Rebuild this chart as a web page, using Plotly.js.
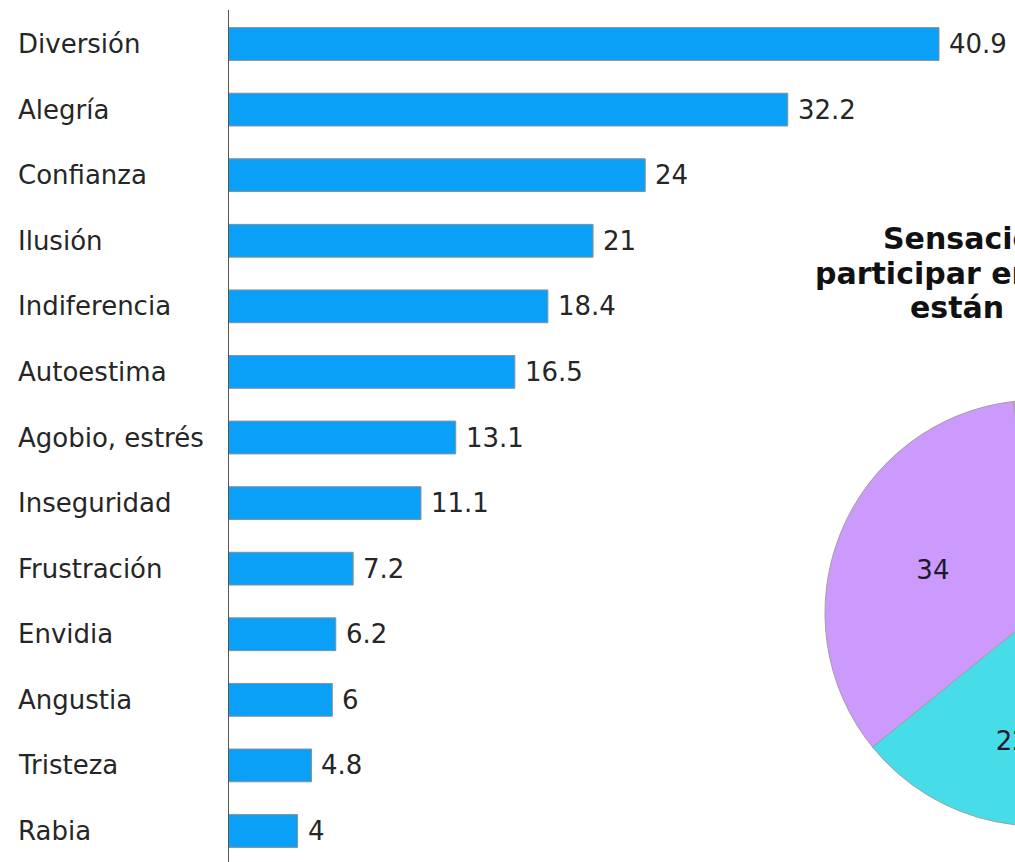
<!DOCTYPE html>
<html><head><meta charset="utf-8">
<script src="https://cdn.plot.ly/plotly-3.0.1.min.js"></script>
<style>html,body{margin:0;padding:0;overflow:hidden;background:#fff}</style>
</head><body><div id="chart" style="width:1260px;height:862px"></div>
<script>
// Bar chart data
const categories = ["Diversión","Alegría","Confianza","Ilusión","Indiferencia","Autoestima","Agobio, estrés","Inseguridad","Frustración","Envidia","Angustia","Tristeza","Rabia"];
const values = [40.9,32.2,24,21,18.4,16.5,13.1,11.1,7.2,6.2,6,4.8,4];
// Pie chart data (only two slices visible; the rest lies outside the picture)
const pieLabels = ["Resto","Segmento B","Segmento A"];
const pieValues = [44,22,34];
const pieColors = ["#f7a8c8","#46dde8","#cc99fd"];
const pieTitleLines = ["Sensaciones","participar en","están"];

const W = 1260, H = 862, L = 228;
const PW = W - L;
const FONT = "DejaVu Sans";
const TXT = "#262626";

const bar = {
  type: "bar", orientation: "h",
  y: categories, x: values,
  width: 0.5,
  marker: {color: "#0aa0f7", line: {color: "#8a9098", width: 1}},
  hoverinfo: "skip", cliponaxis: false
};
const pie = {
  type: "pie",
  labels: pieLabels, values: pieValues,
  sort: false, direction: "clockwise", rotation: -6.6,
  marker: {colors: pieColors, line: {color: "#a0a0a0", width: 1}},
  textinfo: "value", textposition: "inside", insidetextorientation: "horizontal",
  textfont: {family: FONT, size: 26, color: "#1a1a2a"},
  domain: {x: [597/PW, 1023/PW], y: [36/H, 462/H]},
  hoverinfo: "skip", showlegend: false
};

const annotations = [];
categories.forEach((c, i) => {
  annotations.push({xref: "paper", x: (16 - L)/PW, xanchor: "left", yref: "y", y: c, yanchor: "middle",
    text: c, showarrow: false, font: {family: FONT, size: 26, color: TXT}});
  annotations.push({xref: "x", x: values[i], xanchor: "left", xshift: 8, yref: "y", y: c, yanchor: "middle",
    text: String(values[i]), showarrow: false, font: {family: FONT, size: 26, color: TXT}});
});
const titleX = [881, 813, 908];
const titleY = [238, 274, 307];
pieTitleLines.forEach((t, i) => {
  annotations.push({xref: "paper", x: (titleX[i] - L)/PW, xanchor: "left", yref: "paper", y: (H - titleY[i])/H, yanchor: "middle",
    text: "<b>" + t + "</b>", showarrow: false, font: {family: FONT, size: 30, color: "#111"}});
});

const layout = {
  width: W, height: H,
  margin: {l: L, r: 0, t: 0, b: 0, pad: 0},
  paper_bgcolor: "#fff", plot_bgcolor: "#fff",
  showlegend: false,
  xaxis: {range: [0, PW/17.384], domain: [0, 1], showgrid: false, zeroline: false, showticklabels: false, showline: false, fixedrange: true},
  yaxis: {type: "category", categoryorder: "array", categoryarray: categories,
    range: [12 + 31/65.58, -44/65.58], showgrid: false, zeroline: false, showticklabels: false, showline: false, fixedrange: true},
  shapes: [{type: "line", xref: "x", x0: 0, x1: 0, yref: "paper", y0: 0, y1: (H - 10)/H, line: {color: "#555", width: 2}}],
  annotations: annotations
};
Plotly.newPlot("chart", [bar, pie], layout, {displayModeBar: false, staticPlot: true});
</script></body></html>
